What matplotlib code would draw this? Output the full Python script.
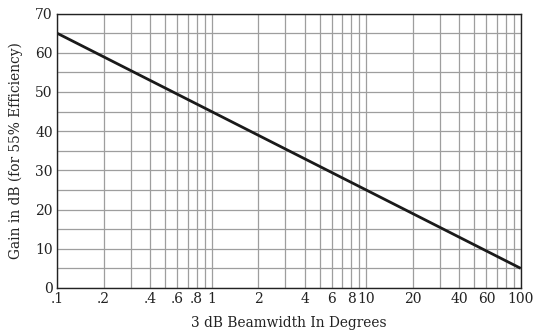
import numpy as np
import matplotlib.pyplot as plt
from matplotlib.ticker import FixedLocator, FixedFormatter, NullFormatter

# beamwidth (deg) vs gain (dB)
beamwidth = [0.1, 100]
gain = [65, 5]

tick_pos = [0.1, 0.2, 0.4, 0.6, 0.8, 1, 2, 4, 6, 8, 10, 20, 40, 60, 100]
tick_lbl = ['.1', '.2', '.4', '.6', '.8', '1', '2', '4', '6', '8', '10', '20', '40', '60', '100']

plt.rcParams['font.family'] = ['DejaVu Serif']

fig = plt.figure(figsize=(5.33, 3.31), dpi=100)
ax = fig.add_axes([0.107, 0.130, 0.870, 0.829])

ax.set_xscale('log')
ax.set_xlim(0.1, 100)
ax.set_ylim(0, 70)

# grid at every 1..9 step per decade
minor = [m * 10.0 ** e for e in range(-1, 2) for m in range(1, 10)] + [100]
ax.xaxis.set_major_locator(FixedLocator(tick_pos))
ax.xaxis.set_major_formatter(FixedFormatter(tick_lbl))
ax.xaxis.set_minor_locator(FixedLocator(minor))
ax.xaxis.set_minor_formatter(NullFormatter())
ax.set_yticks(np.arange(0, 71, 10))
ax.set_yticks(np.arange(0, 71, 5), minor=True)

ax.grid(True, which='both', color='#9e9e9e', linewidth=0.9)
ax.tick_params(which='both', length=0, labelsize=10, pad=3, labelcolor='#222222')

ax.plot(beamwidth, gain, color='#1a1a1a', linewidth=2.0, solid_capstyle='butt')

for s in ax.spines.values():
    s.set_linewidth(1.0)
    s.set_color('#222222')

ax.set_xlabel('3 dB Beamwidth In Degrees', fontsize=9.9, labelpad=7, color='#222222')
ax.set_ylabel('Gain in dB (for 55% Efficiency)', fontsize=9.9, labelpad=9, color='#222222')

fig.savefig('out.png', dpi=100)
